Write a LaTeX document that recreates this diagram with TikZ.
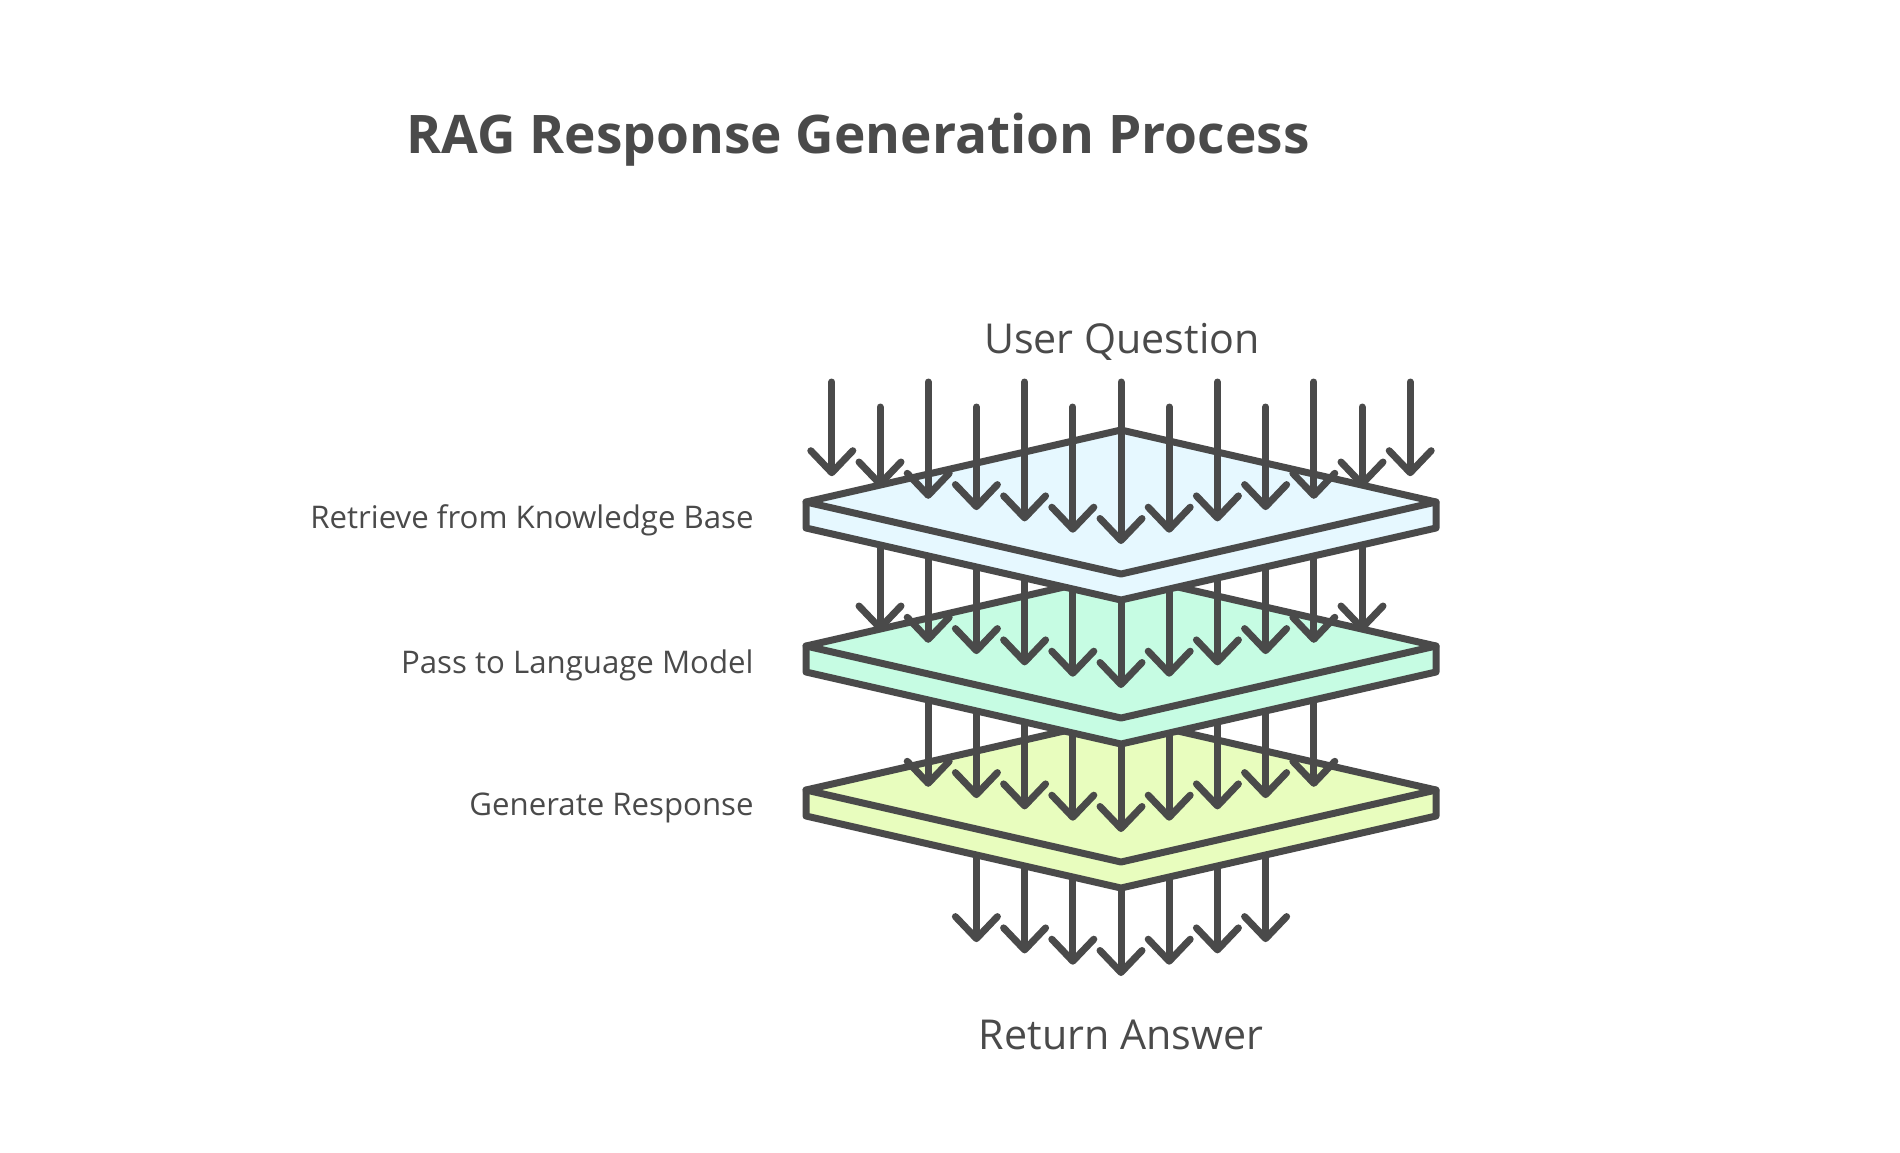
\documentclass[tikz,border=0pt]{standalone}
\usepackage{fontspec}
\setmainfont{Open Sans}
\usetikzlibrary{arrows.meta}
\definecolor{ink}{HTML}{4A4A4A}
\definecolor{skyfill}{HTML}{E6F8FF}
\definecolor{mintfill}{HTML}{C6FCE3}
\definecolor{limefill}{HTML}{E8FDBE}

\begin{document}
\begin{tikzpicture}[x=0.5pt, y=-0.5pt,
  ink line/.style={draw=ink, line width=3.5pt, line cap=round, line join=round},
  flow/.style={ink line, -{Straight Barb[length=11pt,width=21pt,round]}},
  title text/.style={text=ink, inner sep=0pt, anchor=base west, font=\fontsize{26.6}{31}\bfseries},
  end text/.style={text=ink, inner sep=0pt, anchor=base, font=\fontsize{20.6}{24}\selectfont},
  layer text/.style={text=ink, inner sep=0pt, anchor=base east, font=\fontsize{15.6}{18}\selectfont}]
\useasboundingbox (0,0) rectangle (1900,1152);

\node[title text] (title) at (406,153) {RAG Response Generation Process};
\node[end text] (question) at (1122,353) {User Question};
\node[end text] (answer) at (1121,1049) {Return Answer};

% plates from the bottom up, each after the arrows that land below it
\foreach \n/\col in {3/limefill, 2/mintfill, 1/skyfill}
{	\pgfmathsetmacro\ly{502+144*(\n-1)}
	\pgfmathtruncatemacro\m{6-\n}
	\pgfmathtruncatemacro\lo{\n-6}
	\foreach \k in {\lo,...,\m}
	{	\draw[flow] ({1121+48.2*\k},\ly) -- ({1121+48.2*\k},{\ly+186-11.3*abs(\k)});
	}
	\filldraw[ink line, fill=\col] (806,\ly) -- (1121,\ly-72) -- (1436,\ly) -- (1436,\ly+26)
		-- (1121,\ly+98) -- (806,\ly+26) -- cycle;
	\draw[ink line] (806,\ly) -- (1121,\ly+72) -- (1436,\ly);
}
% question arrows onto the top plate
\foreach \k in {-6,...,6}
{	\pgfmathsetmacro\ystart{mod(abs(\k),2)==1 ? 407 : 382}
	\draw[flow] ({1121+48.2*\k},\ystart) -- ({1121+48.2*\k},{544-11.3*abs(\k)});
}

\node[layer text] (retrieve) at (754,528) {Retrieve from Knowledge Base};
\node[layer text] (pass) at (754,673) {Pass to Language Model};
\node[layer text] (generate) at (754,815) {Generate Response};
\end{tikzpicture}
\end{document}
